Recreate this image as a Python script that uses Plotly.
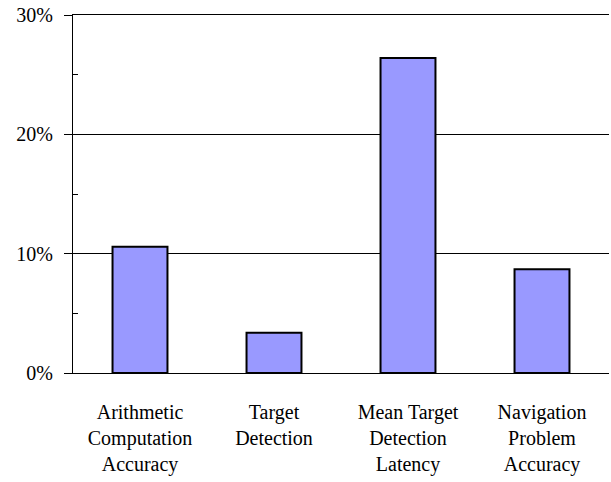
import plotly.graph_objects as go

categories = [
    "Arithmetic<br>Computation<br>Accuracy",
    "Target<br>Detection",
    "Mean Target<br>Detection<br>Latency",
    "Navigation<br>Problem<br>Accuracy",
]
values = [0.1058, 0.0338, 0.264, 0.087]
y_tickvals = [0, 0.1, 0.2, 0.3]
y_ticktext = ["0%", "10%", "20%", "30%"]

fig = go.Figure(
    go.Bar(
        x=categories,
        y=values,
        marker=dict(color="#9999FF", line=dict(color="#000000", width=2)),
        width=0.41,
    )
)

font = dict(family="Times New Roman, Liberation Serif, DejaVu Serif, serif", size=20, color="#000000")

fig.update_layout(
    width=611,
    height=482,
    margin=dict(l=73, r=2, t=15, b=109),
    paper_bgcolor="white",
    plot_bgcolor="white",
    font=font,
    showlegend=False,
)
fig.update_xaxes(
    automargin=False,
    showgrid=False,
    showline=True,
    linecolor="#000000",
    linewidth=1,
    mirror=True,
    ticks="",
    tickfont=font,
    ticklabelstandoff=21,
    zeroline=False,
)
fig.update_yaxes(
    automargin=False,
    range=[0, 0.3],
    tickvals=y_tickvals,
    ticktext=y_ticktext,
    showgrid=True,
    gridcolor="#000000",
    gridwidth=1,
    showline=True,
    linecolor="#000000",
    linewidth=1,
    ticks="outside",
    ticklen=8,
    tickcolor="#000000",
    tickfont=font,
    ticklabelstandoff=7,
    zeroline=False,
    minor=dict(tickvals=[0.05, 0.15, 0.25], ticks="inside", ticklen=5, tickcolor="#000000", showgrid=False),
)

fig.write_html(
    "out.html",
    config={"displayModeBar": False},
    post_script="document.body.style.margin='0';document.body.style.padding='0';",
)
